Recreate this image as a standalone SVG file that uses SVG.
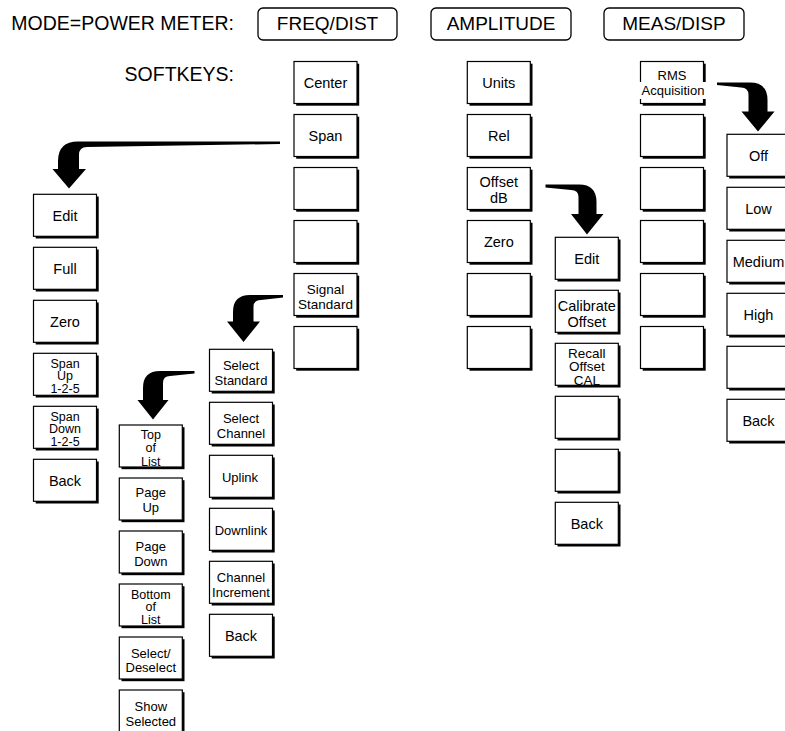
<svg xmlns="http://www.w3.org/2000/svg" xmlns:xlink="http://www.w3.org/1999/xlink" width="785" height="731" viewBox="0 0 785 731">
<style>
text{font-family:"Liberation Sans",Arial,sans-serif;fill:#000;text-anchor:middle}
.hd{font-size:19px}
.lb{text-anchor:end}
.a{font-size:14.5px}
.b{font-size:13px}
.c{font-size:12.5px}
.hb{fill:#fff;stroke:#000;stroke-width:1.3}
.bx{fill:#fff;stroke:#000;stroke-width:1.2}
.arr{fill:#000;stroke:none}
</style>
<defs>
<g id="key"><rect x="2.2" y="2.2" width="63" height="42" fill="#000"/><rect x="0" y="0" width="63" height="42" class="bx"/></g>
</defs>
<rect width="785" height="731" fill="#fff"/>

<g id="header">
<text class="lb" x="234" y="30" style="font-size:19.5px">MODE=POWER METER:</text>
<text class="lb" x="234" y="81" style="font-size:19.5px">SOFTKEYS:</text>
</g>
<g id="freqdist"><rect class="hb" x="258" y="8" width="139" height="32" rx="5"/><text class="hd" x="327.5" y="30">FREQ/DIST</text></g>
<g id="amplitude"><rect class="hb" x="431" y="8" width="140" height="32" rx="5"/><text class="hd" x="501" y="30">AMPLITUDE</text></g>
<g id="measdisp"><rect class="hb" x="604" y="8" width="140" height="32" rx="5"/><text class="hd" x="674" y="30">MEAS/DISP</text></g>

<g id="connectors">
<path class="arr" d="M280,141.5 L78,141.5 Q58,141.5 58,161 L58,169 L52.5,169 L69,188.5 L86,169 L79,169 L79,155 Q79,147 87,147 L280,144 Z"/>
<path class="arr" d="M283,295 L250,295 Q233,295 233,312 L233,321.5 L227,321.5 L243.5,342 L260,321.5 L253.5,321.5 L253.5,307 Q253.5,300 261,300 L283,297.5 Z"/>
<path class="arr" d="M194.5,371 L160,371 Q143,371 143,388 L143,400 L137.5,400 L153,419.5 L168.5,400 L163,400 L163,383 Q163,376 170,376 L194.5,373.5 Z"/>
<path class="arr" d="M545.5,184.5 L579,184.5 Q596.5,184.5 596.5,202 L596.5,214 L603.5,214 L587,234.5 L571,214 L578.5,214 L578.5,197 Q578.5,190 571,190 L545.5,187.5 Z"/>
<path class="arr" d="M717,82.5 L750,82.5 Q767.5,82.5 767.5,100 L767.5,111.5 L774.5,111.5 L758,131.5 L741.5,111.5 L748.5,111.5 L748.5,95 Q748.5,87.5 741,87.5 L717,85 Z"/>
</g>

<!-- FREQ/DIST softkeys -->
<g id="center"><use xlink:href="#key" x="294" y="61.5"/><text class="a" x="325.5" y="88">Center</text></g>
<g id="span"><use xlink:href="#key" x="294" y="114.5"/><text class="a" x="325.5" y="141">Span</text></g>
<g id="fd3"><use xlink:href="#key" x="294" y="167.5"/></g>
<g id="fd4"><use xlink:href="#key" x="294" y="220.5"/></g>
<g id="signal-standard"><use xlink:href="#key" x="294" y="273.5"/><text class="b" x="325.5" y="294" style="font-size:13.5px">Signal</text><text class="b" x="325.5" y="309" style="font-size:13.5px">Standard</text></g>
<g id="fd6"><use xlink:href="#key" x="294" y="326.5"/></g>

<!-- AMPLITUDE softkeys -->
<g id="units"><use xlink:href="#key" x="467.3" y="61.5"/><text class="a" x="498.8" y="88">Units</text></g>
<g id="rel"><use xlink:href="#key" x="467.3" y="114.5"/><text class="a" x="498.8" y="141">Rel</text></g>
<g id="offset-db"><use xlink:href="#key" x="467.3" y="167.5"/><text class="a" x="498.8" y="187">Offset</text><text class="a" x="498.8" y="203">dB</text></g>
<g id="amp-zero"><use xlink:href="#key" x="467.3" y="220.5"/><text class="a" x="498.8" y="247">Zero</text></g>
<g id="amp5"><use xlink:href="#key" x="467.3" y="273.5"/></g>
<g id="amp6"><use xlink:href="#key" x="467.3" y="326.5"/></g>

<!-- MEAS/DISP softkeys -->
<g id="rms-acquisition"><use xlink:href="#key" x="640.5" y="61.5"/><rect x="637" y="82" width="72" height="17" fill="#fff"/><text class="b" x="672" y="79.5">RMS</text><text class="b" x="673" y="94.5">Acquisition</text></g>
<g id="md2"><use xlink:href="#key" x="640.5" y="114.5"/></g>
<g id="md3"><use xlink:href="#key" x="640.5" y="167.5"/></g>
<g id="md4"><use xlink:href="#key" x="640.5" y="220.5"/></g>
<g id="md5"><use xlink:href="#key" x="640.5" y="273.5"/></g>
<g id="md6"><use xlink:href="#key" x="640.5" y="326.5"/></g>

<!-- Span submenu -->
<g id="span-edit"><use xlink:href="#key" x="33.5" y="194.3"/><text class="a" x="65" y="220.8">Edit</text></g>
<g id="span-full"><use xlink:href="#key" x="33.5" y="247.3"/><text class="a" x="65" y="273.8">Full</text></g>
<g id="span-zero"><use xlink:href="#key" x="33.5" y="300.3"/><text class="a" x="65" y="326.8">Zero</text></g>
<g id="span-up"><use xlink:href="#key" x="33.5" y="353.3"/><text class="c" x="65" y="367.5">Span</text><text class="c" x="65" y="380">Up</text><text class="c" x="65" y="392.5">1-2-5</text></g>
<g id="span-down"><use xlink:href="#key" x="33.5" y="406.3"/><text class="c" x="65" y="420.5">Span</text><text class="c" x="65" y="433">Down</text><text class="c" x="65" y="445.5">1-2-5</text></g>
<g id="span-back"><use xlink:href="#key" x="33.5" y="459.3"/><text class="a" x="65" y="485.8">Back</text></g>

<!-- Signal Standard submenu -->
<g id="select-standard"><use xlink:href="#key" x="209.5" y="349.3"/><text class="b" x="241" y="369.8">Select</text><text class="b" x="241" y="384.8">Standard</text></g>
<g id="select-channel"><use xlink:href="#key" x="209.5" y="402.3"/><text class="b" x="241" y="422.8">Select</text><text class="b" x="241" y="437.8">Channel</text></g>
<g id="uplink"><use xlink:href="#key" x="209.5" y="455.3"/><text class="b" x="240" y="481.8">Uplink</text></g>
<g id="downlink"><use xlink:href="#key" x="209.5" y="508.3"/><text class="b" x="241" y="534.8">Downlink</text></g>
<g id="channel-increment"><use xlink:href="#key" x="209.5" y="561.3"/><text class="b" x="241" y="581.8">Channel</text><text class="b" x="241" y="596.8">Increment</text></g>
<g id="signal-back"><use xlink:href="#key" x="209.5" y="614.3"/><text class="a" x="241" y="640.8">Back</text></g>

<!-- Select Standard submenu -->
<g id="top-of-list"><use xlink:href="#key" x="119.3" y="425"/><text class="c" x="150.8" y="439">Top</text><text class="c" x="150.8" y="452.3">of</text><text class="c" x="150.8" y="465.6">List</text></g>
<g id="page-up"><use xlink:href="#key" x="119.3" y="478"/><text class="b" x="150.8" y="497">Page</text><text class="b" x="150.8" y="512">Up</text></g>
<g id="page-down"><use xlink:href="#key" x="119.3" y="531"/><text class="b" x="150.8" y="550.5">Page</text><text class="b" x="150.8" y="565.5">Down</text></g>
<g id="bottom-of-list"><use xlink:href="#key" x="119.3" y="584"/><text class="c" x="150.8" y="598.5">Bottom</text><text class="c" x="150.8" y="611">of</text><text class="c" x="150.8" y="623.5">List</text></g>
<g id="select-deselect"><use xlink:href="#key" x="119.3" y="637"/><text class="b" x="150.8" y="658">Select/</text><text class="b" x="150.8" y="672">Deselect</text></g>
<g id="show-selected"><use xlink:href="#key" x="119.3" y="690"/><text class="b" x="150.8" y="710.5">Show</text><text class="b" x="150.8" y="725.5">Selected</text></g>

<!-- Offset dB submenu -->
<g id="offset-edit"><use xlink:href="#key" x="555.3" y="237.3"/><text class="a" x="586.8" y="263.8">Edit</text></g>
<g id="calibrate-offset"><use xlink:href="#key" x="555.3" y="290.3"/><text class="a" x="586.8" y="310.5">Calibrate</text><text class="a" x="586.8" y="326.5">Offset</text></g>
<g id="recall-offset-cal"><use xlink:href="#key" x="555.3" y="343.3"/><text class="b" x="586.8" y="357.5" style="font-size:13.5px">Recall</text><text class="b" x="586.8" y="371" style="font-size:13.5px">Offset</text><text class="b" x="586.8" y="384.5" style="font-size:13.5px">CAL</text></g>
<g id="off4"><use xlink:href="#key" x="555.3" y="396.3"/></g>
<g id="off5"><use xlink:href="#key" x="555.3" y="449.3"/></g>
<g id="offset-back"><use xlink:href="#key" x="555.3" y="502.3"/><text class="a" x="586.8" y="528.8">Back</text></g>

<!-- RMS Acquisition submenu -->
<g id="rms-off"><use xlink:href="#key" x="727" y="134.3"/><text class="a" x="758.5" y="160.8">Off</text></g>
<g id="rms-low"><use xlink:href="#key" x="727" y="187.3"/><text class="a" x="758.5" y="213.8">Low</text></g>
<g id="rms-medium"><use xlink:href="#key" x="727" y="240.3"/><text class="a" x="758.5" y="266.8">Medium</text></g>
<g id="rms-high"><use xlink:href="#key" x="727" y="293.3"/><text class="a" x="758.5" y="319.8">High</text></g>
<g id="rms5"><use xlink:href="#key" x="727" y="346.3"/></g>
<g id="rms-back"><use xlink:href="#key" x="727" y="399.3"/><text class="a" x="758.5" y="425.8">Back</text></g>
</svg>
